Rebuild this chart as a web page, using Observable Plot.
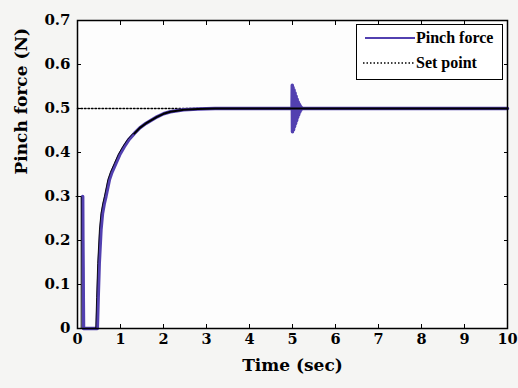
<!DOCTYPE html>
<html><head><meta charset="utf-8">
<script src="https://cdn.jsdelivr.net/npm/d3@7"></script>
<script src="https://cdn.jsdelivr.net/npm/@observablehq/plot@0.6"></script>
<style>
body{margin:0;background:#f5f5f3;}
#wrap{position:relative;width:518px;height:388px;}
.legend{position:absolute;left:356px;top:24px;width:145px;height:54px;border:1.5px solid #000;background:#fff;font-family:"Liberation Serif",serif;font-weight:bold;font-size:16px;color:#000;}
.row{position:absolute;left:6px;display:flex;align-items:center;white-space:nowrap;}
.row svg{margin-right:1px;}
</style></head>
<body><div id="wrap"></div>
<script>
// Tick values
const xTicks = [0,1,2,3,4,5,6,7,8,9,10];
const yTicks = [0,0.1,0.2,0.3,0.4,0.5,0.6,0.7];

// Set point (dotted)
const setT = [0, 10];
const setV = [0.5, 0.5];

// Black model response
const blackT = [0, 0.12, 0.12, 0.46, 0.48, 0.505, 0.545, 0.58, 0.62, 0.66, 0.74, 0.8, 0.89, 0.98, 1.085, 1.2, 1.32, 1.45, 1.59, 1.85, 2.0, 2.16, 2.47, 2.8, 3.2, 10];
const blackV = [0.3, 0.3, 0, 0, 0.07, 0.148, 0.224, 0.261, 0.283, 0.30, 0.338, 0.355, 0.375, 0.395, 0.413, 0.43, 0.443, 0.456, 0.466, 0.481, 0.488, 0.4925, 0.497, 0.499, 0.5, 0.5];

// Pinch force (purple), incl. disturbance at t = 5 s
const forceT = [0.12, 0.125, 0.13, 0.135, 0.14, 0.46, 0.48, 0.505, 0.545, 0.58, 0.62, 0.66, 0.74, 0.8, 0.89, 0.98, 1.085, 1.2, 1.32, 1.45, 1.59, 1.85, 2.0, 2.16, 2.47, 2.8, 3.2, 4.99,
  4.995, 5.0, 5.012, 5.024, 5.036, 5.048, 5.06, 5.072, 5.084, 5.096, 5.108, 5.12, 5.132, 5.144, 5.156, 5.168, 5.18, 5.192, 5.204, 5.216, 5.23, 10];
const forceV = [0.3, 0.2, 0.14, 0.06, 0, 0, 0.07, 0.148, 0.224, 0.261, 0.283, 0.30, 0.338, 0.355, 0.375, 0.395, 0.413, 0.43, 0.443, 0.456, 0.466, 0.481, 0.488, 0.4925, 0.497, 0.499, 0.5, 0.5,
  0.553, 0.447, 0.548, 0.452, 0.542, 0.459, 0.535, 0.466, 0.528, 0.473, 0.521, 0.48, 0.515, 0.486, 0.51, 0.492, 0.506, 0.496, 0.503, 0.499, 0.5, 0.5];

const setData = setT.map((t,i)=>({t, v:setV[i]}));
const blackData = blackT.map((t,i)=>({t, v:blackV[i]}));
const forceData = forceT.map((t,i)=>({t, v:forceV[i]}));

const purple = "#5240b0";
const yFmt = d => d === 0 ? "0" : d.toFixed(1);
const FF = "DejaVu Serif";

const chart = Plot.plot({
  width: 518, height: 388,
  marginLeft: 77, marginRight: 11, marginTop: 20, marginBottom: 60,
  x: {domain: [0, 10]},
  y: {domain: [0, 0.7]},
  style: {background: "transparent", fontFamily: FF, fontWeight: "bold", fontSize: "15px", color: "#000"},
  marks: [
    Plot.frame({fill: "#fdfdfd", stroke: "none"}),
    Plot.line(setData, {x: "t", y: "v", stroke: "#000", strokeWidth: 1.5, strokeDasharray: "1.5,2"}),
    Plot.line(forceData, {x: "t", y: "v", stroke: purple, strokeWidth: 3.5}),
    Plot.line(blackData.filter(d => d.t <= 1.32), {x: "t", y: "v", stroke: "#000", strokeWidth: 0.9, dx: -1.5}),
    Plot.line(blackData.filter(d => d.t >= 1.32), {x: "t", y: "v", stroke: "#000", strokeWidth: 2}),
    Plot.axisX(xTicks, {anchor: "bottom", tickSize: 0, tickPadding: 5, label: null, fontSize: 14.5, fontFamily: FF}),
    Plot.axisX(xTicks, {anchor: "bottom", tickSize: -4, fill: "none", label: null}),
    Plot.axisX(xTicks, {anchor: "top", tickSize: -4, fill: "none", label: null}),
    Plot.axisY(yTicks, {anchor: "left", tickSize: 0, tickPadding: 7, tickFormat: yFmt, label: null, fontSize: 15, fontFamily: FF}),
    Plot.axisY(yTicks, {anchor: "left", tickSize: -4, fill: "none", label: null}),
    Plot.axisY(yTicks, {anchor: "right", tickSize: -4, fill: "none", label: null}),
    Plot.frame({stroke: "#000", strokeWidth: 1.5}),
    Plot.text(["Time (sec)"], {frameAnchor: "bottom", dy: 42, fontSize: 17, fontFamily: FF, text: d => d}),
    Plot.text(["Pinch force (N)"], {frameAnchor: "left", dx: -56, rotate: -90, fontSize: 17, fontFamily: FF, text: d => d})
  ]
});
const wrap = document.getElementById("wrap");
wrap.appendChild(chart);

const legend = document.createElement("div");
legend.className = "legend";
legend.innerHTML = `
  <div class="row" style="top:4px"><svg width="52" height="14"><line x1="2" x2="52" y1="7" y2="7" stroke="${purple}" stroke-width="2"/></svg>Pinch force</div>
  <div class="row" style="top:29px"><svg width="52" height="14"><line x1="0" x2="52" y1="7" y2="7" stroke="#000" stroke-width="1.5" stroke-dasharray="1.5,2"/></svg>Set point</div>`;
wrap.appendChild(legend);
</script>
</body></html>
